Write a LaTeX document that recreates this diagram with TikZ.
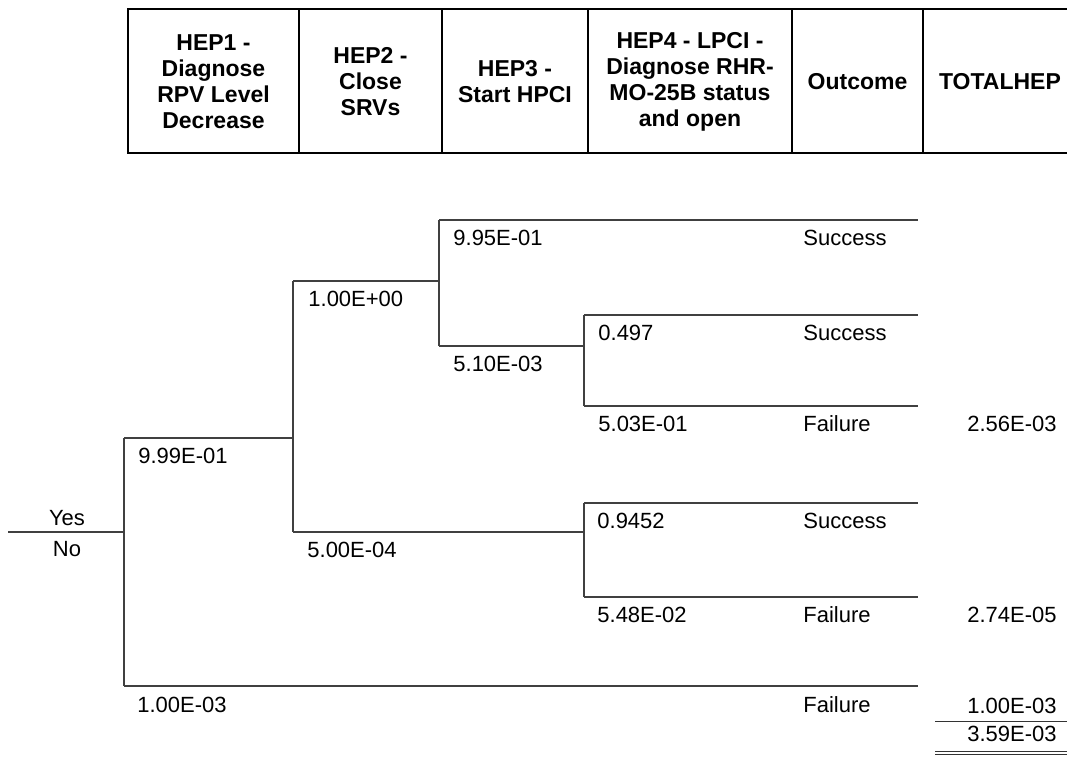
\documentclass[tikz,border=0pt]{standalone}
\usepackage{fontspec}
\setmainfont{Liberation Sans}
\begin{document}
\begin{tikzpicture}[x=0.5pt,y=-0.5pt,
  hdr/.style={font=\fontsize{11.5}{13}\selectfont\bfseries, align=center, inner sep=0pt},
  grid/.style={line width=1.2pt, line cap=rect},
  br/.style={line width=0.55pt, draw=black!75},
  lab/.style={font=\fontsize{11}{13}\selectfont, anchor=base west, inner sep=0pt},
  mid/.style={font=\fontsize{11}{13}\selectfont, anchor=base, inner sep=0pt},
  tot/.style={font=\fontsize{11}{13}\selectfont, anchor=base east, inner sep=0pt},
  rule/.style={line width=0.5pt, draw=black!80}]
\useasboundingbox (0,0) rectangle (1067,758);

% ---------- header row ----------
\coordinate (tl) at (128,9);
\coordinate (tr) at (1067,9);
\coordinate (bl) at (128,153);
\coordinate (brr) at (1067,153);
\draw[grid] (tl) -- (tr);
\draw[grid] (bl) -- (brr);
\foreach \x in {128,299,442,588,792,923}
  \draw[grid] (\x,9) -- (\x,153);

\node[hdr] (h1) at (213.5,82) {HEP1 -\\Diagnose\\RPV Level\\Decrease};
\node[hdr] (h2) at (370.5,82) {HEP2 -\\Close\\SRVs};
\node[hdr] (h3) at (515,82) {HEP3 -\\Start HPCI};
\node[hdr] (h4) at (690,82) {HEP4 - LPCI -\\Diagnose RHR-\\MO-25B status\\and open};
\node[hdr] (h5) at (857.5,82) {Outcome};
\node[hdr] (h6) at (1000,82) {TOTALHEP};

% ---------- event tree ----------
% root
\coordinate (r0) at (8,532);
\coordinate (r1) at (124,532);
% HEP1 fork
\coordinate (f1u) at (124,438);
\coordinate (f1d) at (124,686);
% HEP2 fork
\coordinate (f2u) at (293,281);
\coordinate (f2m) at (293,438);
\coordinate (f2d) at (293,532);
% HEP3 fork
\coordinate (f3u) at (439,220);
\coordinate (f3m) at (439,281);
\coordinate (f3d) at (439,346);
% HEP4 forks
\coordinate (f4u) at (584,315);
\coordinate (f4m) at (584,346);
\coordinate (f4d) at (584,406);
\coordinate (g4u) at (584,503);
\coordinate (g4m) at (584,532);
\coordinate (g4d) at (584,597);
% branch ends
\coordinate (e1) at (918,220);
\coordinate (e2) at (918,315);
\coordinate (e3) at (918,406);
\coordinate (e4) at (918,503);
\coordinate (e5) at (918,597);
\coordinate (e6) at (918,686);

\draw[br] (r0) -- (r1);
\draw[br] (f1u) -- (f1d);
\draw[br] (f1u) -- (f2m);
\draw[br] (f1d) -- (e6);
\draw[br] (f2u) -- (f2d);
\draw[br] (f2u) -- (f3m);
\draw[br] (f2d) -- (g4m);
\draw[br] (f3u) -- (f3d);
\draw[br] (f3u) -- (e1);
\draw[br] (f3d) -- (f4m);
\draw[br] (f4u) -- (f4d);
\draw[br] (f4u) -- (e2);
\draw[br] (f4d) -- (e3);
\draw[br] (g4u) -- (g4d);
\draw[br] (g4u) -- (e4);
\draw[br] (g4d) -- (e5);

% branch labels
\node[mid] (yes) at (67,526) {Yes};
\node[mid] (no) at (67,557) {No};
\node[lab] (p1) at (138,464) {9.99E-01};
\node[lab] (q1) at (137,713) {1.00E-03};
\node[lab] (p2) at (308,307) {1.00E+00};
\node[lab] (q2) at (307,558) {5.00E-04};
\node[lab] (p3) at (453,246) {9.95E-01};
\node[lab] (q3) at (453,372) {5.10E-03};
\node[lab] (p4) at (598,341) {0.497};
\node[lab] (q4) at (598,432) {5.03E-01};
\node[lab] (p5) at (597,529) {0.9452};
\node[lab] (q5) at (597,623) {5.48E-02};

% outcomes
\node[lab] (o1) at (803,246) {Success};
\node[lab] (o2) at (803,341) {Success};
\node[lab] (o3) at (803,432) {Failure};
\node[lab] (o4) at (803,529) {Success};
\node[lab] (o5) at (803,623) {Failure};
\node[lab] (o6) at (803,713) {Failure};

% totals
\node[tot] (t1) at (1057,432) {2.56E-03};
\node[tot] (t2) at (1057,623) {2.74E-05};
\node[tot] (t3) at (1057,714) {1.00E-03};
\node[tot] (t4) at (1057,742) {3.59E-03};
\coordinate (s1) at (935,722);
\coordinate (s2) at (1067,722);
\coordinate (d1) at (935,751.5);
\coordinate (d2) at (1067,751.5);
\coordinate (d3) at (935,754.5);
\coordinate (d4) at (1067,754.5);
\draw[rule] (s1) -- (s2);
\draw[rule] (d1) -- (d2);
\draw[rule] (d3) -- (d4);
\end{tikzpicture}
\end{document}
